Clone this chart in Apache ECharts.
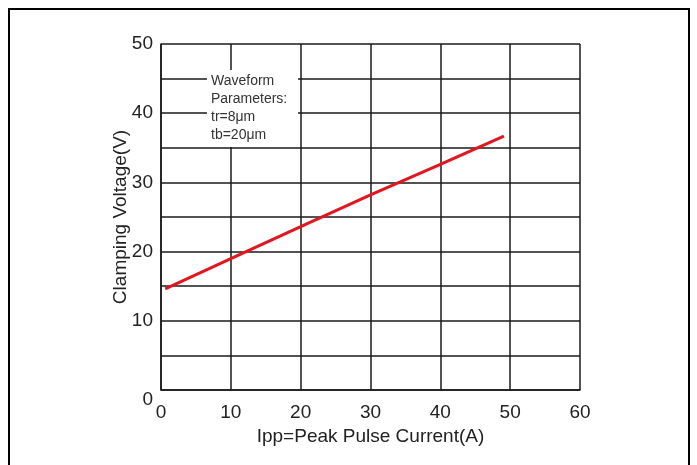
<!DOCTYPE html>
<html>
<head>
<meta charset="utf-8">
<script src="https://cdn.jsdelivr.net/npm/echarts@6/dist/echarts.min.js"></script>
<style>html,body{margin:0;padding:0;background:#fff}#c{width:697px;height:465px}</style>
</head>
<body>
<div id="c"></div>
<script>
const ippValues = [0.6, 10, 20, 30, 40, 49.1];
const clampVoltage = [14.6, 19.0, 23.6, 28.2, 32.6, 36.7];
const xTicks = [0, 10, 20, 30, 40, 50, 60];
const yTicks = [0, 10, 20, 30, 40, 50];
const noteLines = ['Waveform', 'Parameters:', 'tr=8μm', 'tb=20μm'];

const FONT = '"Liberation Sans", Arial, sans-serif';
const gridColor = '#1a1a1a';
const chart = echarts.init(document.getElementById('c'));
chart.setOption({
  animation: false,
  grid: { left: 161, right: 117, top: 44, bottom: 75 },
  xAxis: {
    type: 'value', min: xTicks[0], max: xTicks[xTicks.length - 1], interval: 10,
    name: 'Ipp=Peak Pulse Current(A)', nameLocation: 'middle', nameGap: 37, nameMoveOverlap: false,
    nameTextStyle: { fontFamily: FONT, fontSize: 19, color: '#222' },
    axisLine: { show: true, lineStyle: { color: gridColor, width: 1.5 } },
    axisTick: { show: false },
    axisLabel: { margin: 13, fontFamily: FONT, fontSize: 19, color: '#222',
      formatter: v => xTicks.includes(v) ? String(v) : '' },
    splitLine: { show: true, lineStyle: { color: gridColor, width: 1.5 } }
  },
  yAxis: {
    type: 'value', min: yTicks[0], max: yTicks[yTicks.length - 1], interval: 5,
    name: 'Clamping Voltage(V)', nameLocation: 'middle', nameGap: 31, nameMoveOverlap: false,
    nameTextStyle: { fontFamily: FONT, fontSize: 19, color: '#222' },
    axisLine: { show: true, lineStyle: { color: gridColor, width: 1.5 } },
    axisTick: { show: false },
    axisLabel: { margin: 8, fontFamily: FONT, fontSize: 19, color: '#222',
      formatter: v => v === 0 ? '{z|0}' : (yTicks.includes(v) ? String(v) : ''),
      rich: { z: { fontFamily: FONT, fontSize: 19, color: '#222', padding: [20, 0, 0, 0] } } },
    splitLine: { show: true, lineStyle: { color: gridColor, width: 1.5 } }
  },
  series: [{
    type: 'line',
    data: ippValues.map((x, i) => [x, clampVoltage[i]]),
    showSymbol: false,
    lineStyle: { color: '#e3151f', width: 3 },
    z: 5
  }],
  graphic: [
    { type: 'rect', z: 100, shape: { x: 207, y: 70, width: 91, height: 77 }, style: { fill: '#fff' } },
    { type: 'text', z: 101, left: 211, top: 72,
      style: { text: noteLines.join('\n'), font: '14px ' + FONT, fill: '#333', lineHeight: 18 } },
    { type: 'rect', z: 100, shape: { x: 9, y: 9, width: 680, height: 480 },
      style: { fill: 'none', stroke: '#000', lineWidth: 2 } }
  ]
});
</script>
</body>
</html>
